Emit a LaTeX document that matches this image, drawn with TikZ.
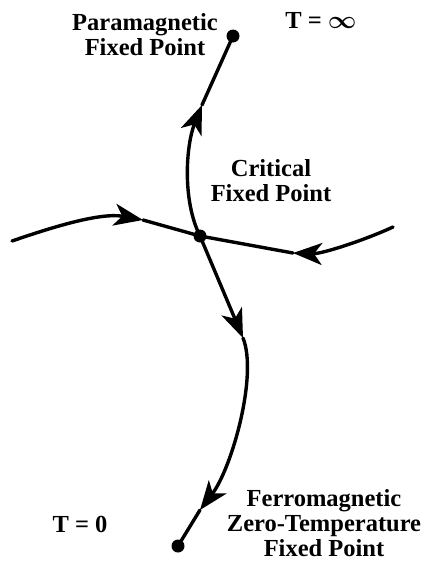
\documentclass[tikz,border=0pt]{standalone}
\usepackage{amsmath}
\usepackage{fontspec}
\setmainfont{Liberation Serif}
\usetikzlibrary{arrows.meta}
\begin{document}
\begin{tikzpicture}[x=1pt,y=-1pt,
  flow/.style={line width=3.4pt,line cap=round},
  arr/.style={flow,-{Stealth[length=29pt,width=22pt,inset=8pt]}},
  fp/.style={circle,fill=black,inner sep=0pt,minimum size=13pt},
  lbl/.style={font=\fontsize{24.5}{25}\selectfont\bfseries,align=center,inner sep=0pt}]
\useasboundingbox (0,0) rectangle (427,563);
\node[fp] (para) at (233,36) {};
\node[fp] (crit) at (200,236) {};
\node[fp] (zero) at (178,546) {};
\coordinate (L) at (12,241);
\coordinate (R) at (393,227);
\coordinate (aL) at (143,220);
\coordinate (aR) at (293,253);
\coordinate (aU) at (202,105);
\coordinate (aD1) at (243,338);
\coordinate (aD2) at (200,510);
% horizontal
\draw[arr] (L) .. controls (50,228) and (100,212) .. (aL);
\draw[flow] (aL) -- (crit.center);
\draw[arr] (R) .. controls (365,240) and (322,254) .. (aR);
\draw[flow] (aR) -- (crit.center);
% upward
\draw[arr] (crit.center) .. controls (182,200) and (186,145) .. (aU);
\draw[flow] (aU) -- (para.center);
% downward
\draw[arr] (crit.center) -- (aD1);
\draw[arr] (aD1) .. controls (258,375) and (232,468) .. (aD2);
\draw[flow] (aD2) -- (zero.center);
% labels
\node[lbl] (tpara) at (145,35) {Paramagnetic\\Fixed Point};
\node[lbl] (tinf) at (321,20) {T = {\boldmath$\infty$}};
\node[lbl] (tcrit) at (271,181) {Critical\\Fixed Point};
\node[lbl] (tzero) at (80,524) {T = 0};
\node[lbl] (tferro) at (324,523) {Ferromagnetic\\Zero-Temperature\\Fixed Point};
\end{tikzpicture}
\end{document}
